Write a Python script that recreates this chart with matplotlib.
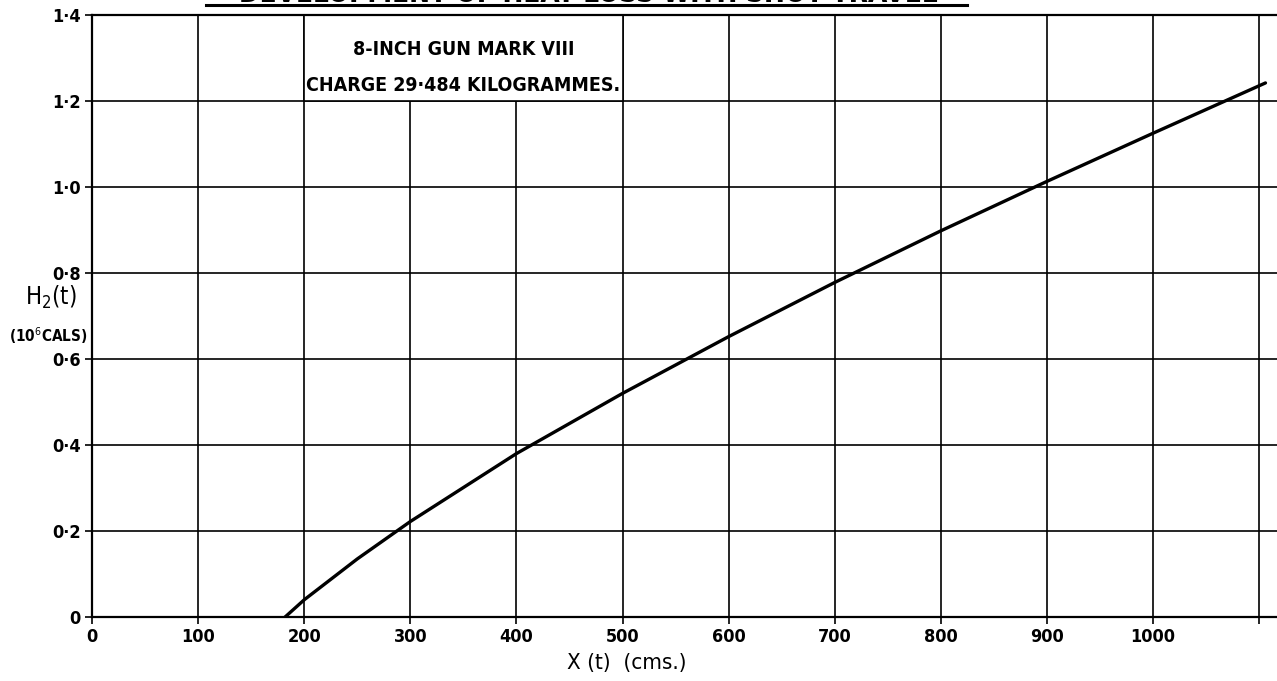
import matplotlib
matplotlib.use("Agg")
import matplotlib.pyplot as plt
from matplotlib.patches import Rectangle
from matplotlib.lines import Line2D

# data
shot_travel = [182, 200, 250, 300, 400, 500, 600, 700, 800, 900, 1000, 1106]
heat_loss = [0.0, 0.04, 0.135, 0.222, 0.38, 0.52, 0.652, 0.778, 0.898, 1.013, 1.125, 1.242]

x_ticks = [0, 100, 200, 300, 400, 500, 600, 700, 800, 900, 1000, 1100]
x_tick_labels = ["0", "100", "200", "300", "400", "500", "600", "700", "800", "900", "1000", ""]
y_ticks = [0, 0.2, 0.4, 0.6, 0.8, 1.0, 1.2, 1.4]
y_tick_labels = ["0", "0·2", "0·4", "0·6", "0·8", "1·0", "1·2", "1·4"]

title_text = "DEVELOPMENT OF HEAT LOSS WITH SHOT TRAVEL"
note_lines = ["8-INCH GUN MARK VIII", "CHARGE 29·484 KILOGRAMMES."]
note_box_x = (200, 500)
note_box_y = (1.2, 1.4)

plt.rcParams['font.family'] = ['DejaVu Sans']
plt.rcParams['font.stretch'] = 'condensed'

W, H = 1277, 681
fig = plt.figure(figsize=(W / 100, H / 100), dpi=100)
fig.patch.set_facecolor("white")

ax_left, ax_right, ax_bottom, ax_top = 92, 1277, 617, 15
ax = fig.add_axes([ax_left / W, (H - ax_bottom) / H,
                   (ax_right - ax_left) / W, (ax_bottom - ax_top) / H])

ax.set_xlim(0, (ax_right - ax_left) / 1.061)
ax.set_ylim(0, 1.4)

ax.set_xticks(x_ticks)
ax.set_xticklabels(x_tick_labels)
ax.set_yticks(y_ticks)
ax.set_yticklabels(y_tick_labels)
ax.tick_params(axis="both", direction="out", length=5, width=1.2, color="black",
               labelsize=13, pad=3)
for lbl in ax.get_xticklabels() + ax.get_yticklabels():
    lbl.set_fontweight("bold")

ax.grid(True, color="black", linewidth=1.2)
ax.set_axisbelow(True)
for side in ["left", "bottom", "top"]:
    ax.spines[side].set_linewidth(1.6)
ax.spines["right"].set_visible(False)

# annotation box covering the grid
box = Rectangle((note_box_x[0], note_box_y[0]), note_box_x[1] - note_box_x[0],
                note_box_y[1] - note_box_y[0], facecolor="white", edgecolor="black",
                linewidth=1.2, zorder=2)
ax.add_patch(box)
box_mid = sum(note_box_x) / 2
ax.text(box_mid, 1.319, note_lines[0], ha="center", va="center", fontsize=14,
        fontweight="bold", zorder=3)
ax.text(box_mid, 1.235, note_lines[1], ha="center", va="center", fontsize=14,
        fontweight="bold", zorder=3)

ax.plot(shot_travel, heat_loss, color="black", linewidth=2.4, zorder=4,
        solid_capstyle="round")

# axis labels, placed like the hand lettering
fig.text(51 / W, 1 - 297 / H, r"H$_2$(t)", ha="center", va="center", fontsize=17)
fig.text(48 / W, 1 - 336 / H, r"(10$^6$CALS)", ha="center", va="center", fontsize=11,
         fontweight="bold")
fig.text(627 / W, 1 - 663 / H, "X (t)  (cms.)", ha="center", va="center", fontsize=16)

# title, cut off at the top of the scan
fig.text(588 / W, 1 - 1.5 / H, title_text, ha="center", va="baseline", fontsize=20,
         fontweight="bold")
fig.add_artist(Line2D([206 / W, 967 / W], [1 - 4.5 / H, 1 - 4.5 / H], color="black",
                      linewidth=2.2, transform=fig.transFigure))

fig.savefig("out.png", dpi=100)
plt.close(fig)
